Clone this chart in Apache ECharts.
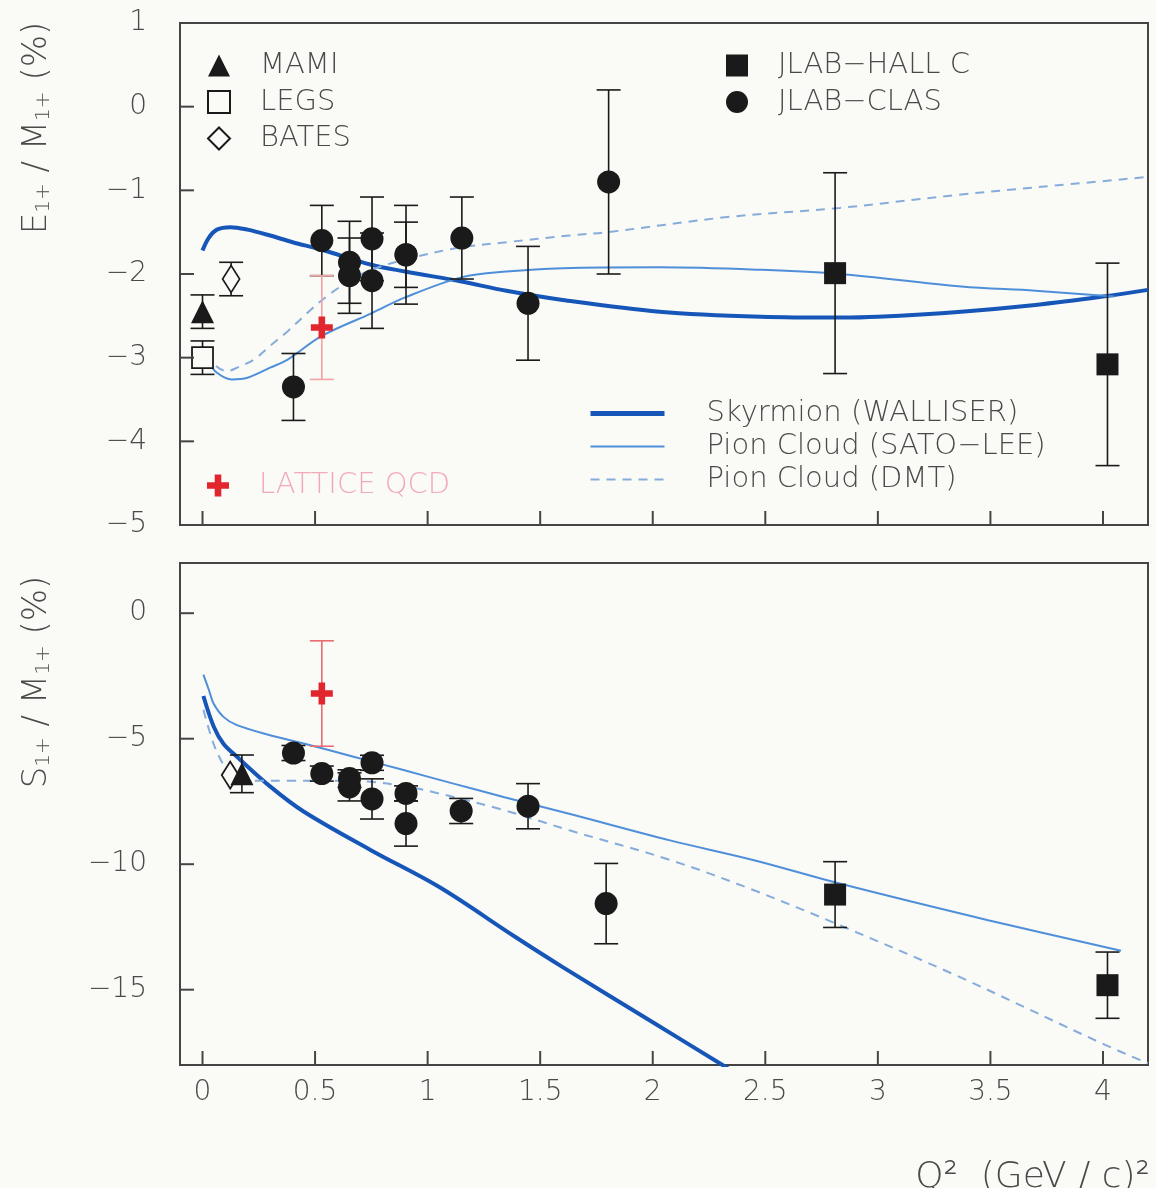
<!DOCTYPE html>
<html>
<head>
<meta charset="utf-8">
<script src="https://cdn.jsdelivr.net/npm/echarts@6/dist/echarts.min.js"></script>
<style>
html,body{margin:0;padding:0;background:#fafaf7;}
#chart{width:1156px;height:1188px;}
</style>
</head>
<body>
<div id="chart"></div>
<script>
// ---------- axis ranges and tick labels ----------
const rangeQ2 = [-0.1, 4.2];
const rangeEM = [-5, 1];
const rangeSM = [-18, 2];
const tickQ2 = [0, 0.5, 1, 1.5, 2, 2.5, 3, 3.5, 4];
const tickEM = [1, 0, -1, -2, -3, -4, -5];
const tickSM = [0, -5, -10, -15];

// ---------- E1+/M1+ data : [Q2, value, error] ----------
const emMAMI = [[0.0, -2.45, 0.2]];
const emLEGS = [[0.0, -3.0, 0.2]];
const emBATES = [[0.127, -2.06, 0.2]];
const emCLAS = [
  [0.404, -3.35, 0.40],
  [0.53, -1.60, 0.42],
  [0.653, -1.86, 0.49],
  [0.653, -2.02, 0.45],
  [0.753, -1.58, 0.50],
  [0.753, -2.08, 0.57],
  [0.904, -1.77, 0.39],
  [0.904, -1.77, 0.59],
  [1.152, -1.57, 0.49],
  [1.446, -2.35, 0.68],
  [1.804, -0.90, 1.10]
];
const emHALLC = [[2.81, -1.99, 1.20], [4.02, -3.08, 1.21]];
const emLATTICE = [[0.53, -2.64, 0.62]];

// ---------- S1+/M1+ data : [Q2, value, error] ----------
const smMAMI = [[0.175, -6.4, 0.75]];
const smBATES = [[0.123, -6.45, 0]];
const smCLAS = [
  [0.404, -5.57, 0.3],
  [0.53, -6.39, 0.3],
  [0.653, -6.59, 0.35],
  [0.653, -6.92, 0.56],
  [0.753, -5.96, 0.3],
  [0.753, -7.40, 0.80],
  [0.904, -7.18, 0.3],
  [0.904, -8.38, 0.90],
  [1.149, -7.88, 0.50],
  [1.446, -7.69, 0.90],
  [1.793, -11.57, 1.60]
];
const smHALLC = [[2.81, -11.21, 1.31], [4.02, -14.82, 1.32]];
const smLATTICE = [[0.53, -3.2, 2.1]];

// ---------- model curves : [Q2, value] ----------
const emSkyrmion = [[0.0,-1.72],[0.027,-1.57],[0.064,-1.47],[0.123,-1.44],[0.2,-1.47],[0.3,-1.54],[0.4,-1.62],[0.53,-1.71],[0.75,-1.89],[0.9,-1.97],[1.15,-2.09],[1.35,-2.2],[1.6,-2.31],[2.03,-2.45],[2.48,-2.51],[2.83,-2.52],[3.0,-2.51],[3.37,-2.45],[3.7,-2.37],[4.0,-2.27],[4.2,-2.19]];
const emSatoLee = [[0.0,-2.86],[0.03,-3.06],[0.064,-3.18],[0.13,-3.26],[0.2,-3.24],[0.3,-3.12],[0.38,-3.02],[0.53,-2.74],[0.75,-2.47],[0.9,-2.28],[1.15,-2.04],[1.35,-1.97],[1.6,-1.93],[2.03,-1.92],[2.48,-1.95],[2.83,-2.0],[3.37,-2.15],[3.7,-2.2],[4.05,-2.27]];
const emDMT = [[0.02,-2.94],[0.06,-3.1],[0.11,-3.16],[0.153,-3.12],[0.23,-3.02],[0.3,-2.86],[0.38,-2.68],[0.48,-2.43],[0.56,-2.25],[0.66,-2.07],[0.75,-1.95],[0.894,-1.83],[1.13,-1.69],[1.35,-1.62],[1.63,-1.54],[1.8,-1.5],[2.33,-1.32],[2.83,-1.21],[3.37,-1.05],[3.8,-0.94],[4.2,-0.84]];
const smSkyrmion = [[0.004,-3.3],[0.049,-4.5],[0.093,-5.2],[0.153,-5.72],[0.3,-6.9],[0.449,-7.9],[0.75,-9.45],[1.05,-10.9],[1.39,-12.9],[1.6,-14.1],[2.0,-16.3],[2.31,-18.0],[2.4,-18.5]];
const smSatoLee = [[0.004,-2.45],[0.03,-3.1],[0.049,-3.6],[0.093,-4.13],[0.153,-4.46],[0.3,-4.86],[0.449,-5.19],[0.671,-5.72],[0.893,-6.25],[1.115,-6.79],[1.337,-7.32],[1.633,-8.0],[2.077,-9.05],[2.45,-9.84],[2.83,-10.77],[3.49,-12.23],[4.08,-13.45]];
const smDMT = [[0.004,-3.85],[0.049,-5.2],[0.09,-6.0],[0.11,-6.25],[0.15,-6.55],[0.23,-6.68],[0.38,-6.68],[0.6,-6.68],[0.75,-6.72],[0.9,-6.9],[1.05,-7.18],[1.34,-7.85],[1.63,-8.65],[2.08,-9.84],[2.45,-11.04],[2.83,-12.43],[3.34,-14.4],[4.01,-17.2],[4.2,-17.93]];

// ---------- styling ----------
const FONT = "'DejaVu Sans ExtraLight','DejaVu Sans Light','DejaVu Sans',sans-serif";
const TXT = '#4a4a4a';
const FRAME = '#444444';
const INK = '#1a1a1a';
const C_SKY = '#1656b8';
const C_SATO = '#4f8fda';
const C_DMT = '#86acdc';
const C_LAT = '#e2262e';
const CROSS = 'path://M7,0h6v7h7v6h-7v7h-6v-7h-7v-6h7z';
const TICK_LEN = 14;

const fmt = v => String(v).replace('-', '\u2212');

function errRender(color, width, capHalf) {
  return function (params, api) {
    const x = api.value(0), y = api.value(1), e = api.value(2);
    if (!e) return null;
    const hi = api.coord([x, y + e]);
    const lo = api.coord([x, y - e]);
    const st = { stroke: color, lineWidth: width };
    return {
      type: 'group',
      children: [
        { type: 'line', shape: { x1: hi[0], y1: hi[1], x2: lo[0], y2: lo[1] }, style: st },
        { type: 'line', shape: { x1: hi[0] - capHalf, y1: hi[1], x2: hi[0] + capHalf, y2: hi[1] }, style: st },
        { type: 'line', shape: { x1: lo[0] - capHalf, y1: lo[1], x2: lo[0] + capHalf, y2: lo[1] }, style: st }
      ]
    };
  };
}

const series = [];
function addPoints(name, data, panel, symbol, size, style, errColor) {
  series.push({
    type: 'custom', name: '_err_' + name + panel, xAxisIndex: panel, yAxisIndex: panel,
    renderItem: errRender(errColor || INK, 1.6, 12), data: data, encode: { x: 0, y: 1 },
    z: 3, silent: true, clip: true
  });
  series.push({
    type: 'scatter', name: name, xAxisIndex: panel, yAxisIndex: panel,
    data: data, encode: { x: 0, y: 1 }, symbol: symbol, symbolSize: size,
    symbolKeepAspect: true, itemStyle: Object.assign({ opacity: 1 }, style), z: 5, silent: true
  });
}
function addCurve(name, data, panel, color, width, dash) {
  series.push({
    type: 'line', name: name, xAxisIndex: panel, yAxisIndex: panel, data: data,
    symbol: 'none', smooth: 0.35, clip: true, silent: true, z: 2,
    lineStyle: { color: color, width: width, type: dash ? [9, 7] : 'solid' },
    itemStyle: { color: color }
  });
}
// inward tick marks on the bottom (x) and left (y) frame of a panel, placed through the axis scales
function addTicks(panel, yRange, yTicks) {
  series.push({
    type: 'custom', name: '_xticks' + panel, xAxisIndex: panel, yAxisIndex: panel, clip: false, silent: true, z: 6,
    data: tickQ2.map(v => [v, yRange[0]]), encode: { x: 0, y: 1 },
    renderItem: (params, api) => {
      const p = api.coord([api.value(0), api.value(1)]);
      return { type: 'line', shape: { x1: p[0], y1: p[1], x2: p[0], y2: p[1] - TICK_LEN }, style: { stroke: FRAME, lineWidth: 2 } };
    }
  });
  series.push({
    type: 'custom', name: '_yticks' + panel, xAxisIndex: panel, yAxisIndex: panel, clip: false, silent: true, z: 6,
    data: yTicks.map(v => [rangeQ2[0], v]), encode: { x: 0, y: 1 },
    renderItem: (params, api) => {
      const p = api.coord([api.value(0), api.value(1)]);
      return { type: 'line', shape: { x1: p[0], y1: p[1], x2: p[0] + TICK_LEN, y2: p[1] }, style: { stroke: FRAME, lineWidth: 2 } };
    }
  });
}

// curves
addCurve('Skyrmion (WALLISER)', emSkyrmion, 0, C_SKY, 4);
addCurve('Pion Cloud (SATO\u2212LEE)', emSatoLee, 0, C_SATO, 2);
addCurve('Pion Cloud (DMT)', emDMT, 0, C_DMT, 2, true);
addCurve('Skyrmion (WALLISER)', smSkyrmion, 1, C_SKY, 4);
addCurve('Pion Cloud (SATO\u2212LEE)', smSatoLee, 1, C_SATO, 2);
addCurve('Pion Cloud (DMT)', smDMT, 1, C_DMT, 2, true);

// points
const filled = { color: INK };
const open = { color: '#fafaf7', borderColor: INK, borderWidth: 1.8 };
addPoints('MAMI', emMAMI, 0, 'triangle', 23, filled);
addPoints('LEGS', emLEGS, 0, 'rect', 21, open);
addPoints('BATES', emBATES, 0, 'diamond', [17, 27], open);
addPoints('JLAB\u2212CLAS', emCLAS, 0, 'circle', 23, filled);
addPoints('JLAB\u2212HALL C', emHALLC, 0, 'rect', 22, filled);
addPoints('LATTICE QCD', emLATTICE, 0, CROSS, 22, { color: C_LAT }, '#f1a3a6');

addPoints('BATES', smBATES, 1, 'diamond', [17, 27], open);
addPoints('MAMI', smMAMI, 1, 'triangle', 23, filled);
addPoints('JLAB\u2212CLAS', smCLAS, 1, 'circle', 23, filled);
addPoints('JLAB\u2212HALL C', smHALLC, 1, 'rect', 22, filled);
addPoints('LATTICE QCD', smLATTICE, 1, CROSS, 22, { color: C_LAT }, '#e86c70');

// ticks
addTicks(0, rangeEM, tickEM.filter(v => v > rangeEM[0] && v < rangeEM[1]));
addTicks(1, rangeSM, tickSM);

const legendText = { fontFamily: FONT, fontSize: 29, color: TXT };
const labelStyle = { fontSize: 28, color: TXT, fontFamily: FONT, formatter: fmt };

const option = {
  backgroundColor: '#fafaf7',
  animation: false,
  textStyle: { fontFamily: FONT },
  grid: [
    { left: 180, top: 23, width: 968, height: 502, show: true, borderColor: FRAME, borderWidth: 2, backgroundColor: 'transparent' },
    { left: 180, top: 563, width: 968, height: 502, show: true, borderColor: FRAME, borderWidth: 2, backgroundColor: 'transparent' }
  ],
  xAxis: [0, 1].map(i => ({
    type: 'value', gridIndex: i, min: rangeQ2[0], max: rangeQ2[1], position: 'bottom',
    axisLine: { show: false, onZero: false }, splitLine: { show: false }, axisTick: { show: false },
    axisLabel: Object.assign({ show: i === 1, customValues: tickQ2, margin: 14 }, labelStyle)
  })),
  yAxis: [
    {
      type: 'value', gridIndex: 0, min: rangeEM[0], max: rangeEM[1], position: 'left',
      axisLine: { show: false, onZero: false }, splitLine: { show: false }, axisTick: { show: false },
      axisLabel: Object.assign({ customValues: tickEM, margin: 33 }, labelStyle)
    },
    {
      type: 'value', gridIndex: 1, min: rangeSM[0], max: rangeSM[1], position: 'left',
      axisLine: { show: false, onZero: false }, splitLine: { show: false }, axisTick: { show: false },
      axisLabel: Object.assign({ customValues: tickSM, margin: 33 }, labelStyle)
    }
  ],
  legend: [
    {
      left: 207, top: 51, padding: 0, orient: 'vertical', itemWidth: 22, itemHeight: 22, itemGap: 7.5,
      selectedMode: false, data: ['MAMI', 'LEGS', 'BATES'],
      textStyle: Object.assign({ padding: [0, 0, 0, 25] }, legendText)
    },
    {
      left: 726, top: 51, padding: 0, orient: 'vertical', itemWidth: 22, itemHeight: 22, itemGap: 7.5,
      selectedMode: false, data: ['JLAB\u2212HALL C', 'JLAB\u2212CLAS'],
      textStyle: Object.assign({ padding: [0, 0, 0, 25] }, legendText)
    },
    {
      left: 588, top: 399, padding: 0, orient: 'vertical', itemWidth: 74, itemHeight: 22, itemGap: 4,
      selectedMode: false, itemStyle: { opacity: 0 },
      data: [
        { name: 'Skyrmion (WALLISER)', lineStyle: { width: 5, color: C_SKY } },
        { name: 'Pion Cloud (SATO\u2212LEE)', lineStyle: { width: 2, color: C_SATO } },
        { name: 'Pion Cloud (DMT)', lineStyle: { width: 2, color: C_DMT, type: [9, 7] } }
      ],
      textStyle: Object.assign({ padding: [0, 0, 0, 37] }, legendText)
    },
    {
      left: 207, top: 471, padding: 0, orient: 'vertical', itemWidth: 22, itemHeight: 22,
      selectedMode: false,
      data: [{ name: 'LATTICE QCD', textStyle: { color: '#f3aab8' } }],
      textStyle: Object.assign({ padding: [0, 0, 0, 25] }, legendText)
    }
  ],
  graphic: [
    {
      type: 'text', x: 37, y: 128, rotation: Math.PI / 2,
      style: {
        text: 'E{s|1+} / M{s|1+} (%)', fill: TXT, fontFamily: FONT, fontSize: 34,
        align: 'center', verticalAlign: 'middle',
        rich: { s: { fontSize: 20, fill: TXT, fontFamily: FONT, verticalAlign: 'bottom', lineHeight: 20 } }
      }
    },
    {
      type: 'text', x: 37, y: 682, rotation: Math.PI / 2,
      style: {
        text: 'S{s|1+} / M{s|1+} (%)', fill: TXT, fontFamily: FONT, fontSize: 34,
        align: 'center', verticalAlign: 'middle',
        rich: { s: { fontSize: 20, fill: TXT, fontFamily: FONT, verticalAlign: 'bottom', lineHeight: 20 } }
      }
    },
    {
      type: 'text', x: 1150, y: 1178,
      style: { text: 'Q\u00B2  (GeV / c)\u00B2', fill: TXT, fontFamily: FONT, fontSize: 36, align: 'right', verticalAlign: 'middle' }
    }
  ],
  series: series
};

const chart = echarts.init(document.getElementById('chart'), null, { renderer: 'canvas' });
chart.setOption(option);
</script>
</body>
</html>
